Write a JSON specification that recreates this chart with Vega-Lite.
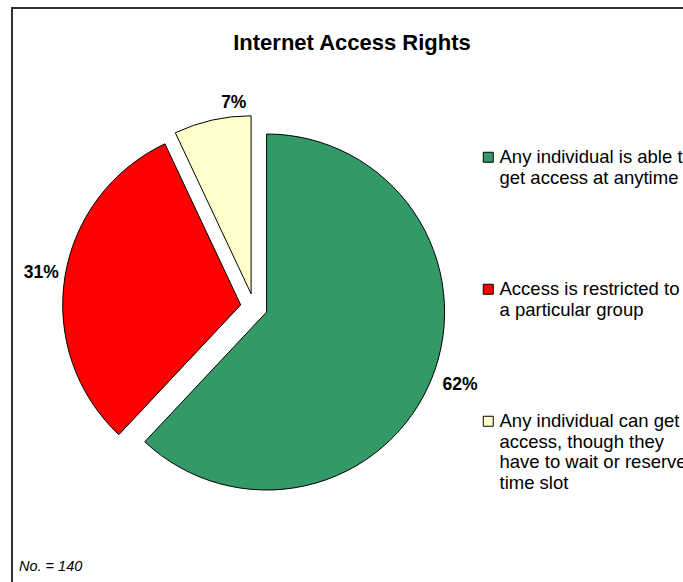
{
  "$schema": "https://vega.github.io/schema/vega-lite/v6.json",
  "padding": {"left": 11, "top": 7, "right": 0, "bottom": 0},
  "background": "white",
  "config": {
    "font": "Liberation Sans",
    "view": {"stroke": "#303030", "strokeWidth": 2},
    "concat": {"spacing": 0}
  },
  "title": {"text": "No. = 140", "orient": "bottom", "anchor": "start", "fontStyle": "italic", "fontWeight": "normal", "fontSize": 14.5, "color": "black", "offset": -49, "dx": 8},
  "datasets": {
    "access": [
      {"response": "Any individual is able to|get access at anytime", "share": 0.62, "order": 1},
      {"response": "Access is restricted to|a particular group", "share": 0.31, "order": 2},
      {"response": "Any individual can get|access, though they|have to wait or reserve a|time slot", "share": 0.07, "order": 3}
    ]
  },
  "vconcat": [
    {
      "width": 700,
      "height": 600,
      "view": {"stroke": "#303030", "strokeWidth": 2, "fill": "white"},
      "title": {"text": "Internet Access Rights", "fontSize": 22, "fontWeight": "bold", "anchor": "middle", "dx": -10, "offset": -47, "color": "black"},
      "data": {"name": "access"},
      "encoding": {
        "theta": {"field": "share", "type": "quantitative", "stack": true},
        "order": {"field": "order", "type": "quantitative"}
      },
      "layer": [
        {
          "mark": {"type": "arc", "radius": 178, "stroke": "black", "strokeWidth": 1, "xOffset": -95.4, "yOffset": 4},
          "encoding": {
            "color": {"field": "response", "type": "nominal",
              "scale": {"domain": ["Any individual is able to|get access at anytime", "Access is restricted to|a particular group", "Any individual can get|access, though they|have to wait or reserve a|time slot"], "range": ["#339966", "#FF0000", "#FFFFCC"]},
              "legend": {"orient": "none", "legendX": 467, "legendY": 140, "title": null, "symbolType": "square", "symbolSize": 100, "symbolStrokeColor": "black", "symbolStrokeWidth": 1, "labelFontSize": 18.5, "labelColor": "black", "labelLimit": 400, "labelOffset": 2, "labelExpr": "split(datum.label, '|')", "rowPadding": 92, "padding": 0}},
            "opacity": {"condition": {"test": "datum.order == 1", "value": 1}, "value": 0}
          }
        },
        {
          "mark": {"type": "arc", "radius": 178, "stroke": "black", "strokeWidth": 1, "xOffset": -121.3, "yOffset": -3.1},
          "encoding": {
            "color": {"field": "response", "type": "nominal"},
            "opacity": {"condition": {"test": "datum.order == 2", "value": 1}, "value": 0}
          }
        },
        {
          "mark": {"type": "arc", "radius": 178, "stroke": "black", "strokeWidth": 1, "xOffset": -110.9, "yOffset": -14.2},
          "encoding": {
            "color": {"field": "response", "type": "nominal"},
            "opacity": {"condition": {"test": "datum.order == 3", "value": 1}, "value": 0}
          }
        },
        {
          "mark": {"type": "text", "radius": 208, "fontSize": 17.5, "fontWeight": "bold", "color": "black", "xOffset": -95.4, "yOffset": 4, "dy": -4},
          "encoding": {
            "text": {"field": "share", "type": "quantitative", "format": ".0%"},
            "opacity": {"condition": {"test": "datum.order == 1", "value": 1}, "value": 0}
          }
        },
        {
          "mark": {"type": "text", "radius": 202, "fontSize": 17.5, "fontWeight": "bold", "color": "black", "xOffset": -121.3, "yOffset": -3.1},
          "encoding": {
            "text": {"field": "share", "type": "quantitative", "format": ".0%"},
            "opacity": {"condition": {"test": "datum.order == 2", "value": 1}, "value": 0}
          }
        },
        {
          "mark": {"type": "text", "radius": 194, "fontSize": 17.5, "fontWeight": "bold", "color": "black", "xOffset": -110.9, "yOffset": -14.2, "dx": 25, "dy": -1},
          "encoding": {
            "text": {"field": "share", "type": "quantitative", "format": ".0%"},
            "opacity": {"condition": {"test": "datum.order == 3", "value": 1}, "value": 0}
          }
        }
      ]
    }
  ]
}
